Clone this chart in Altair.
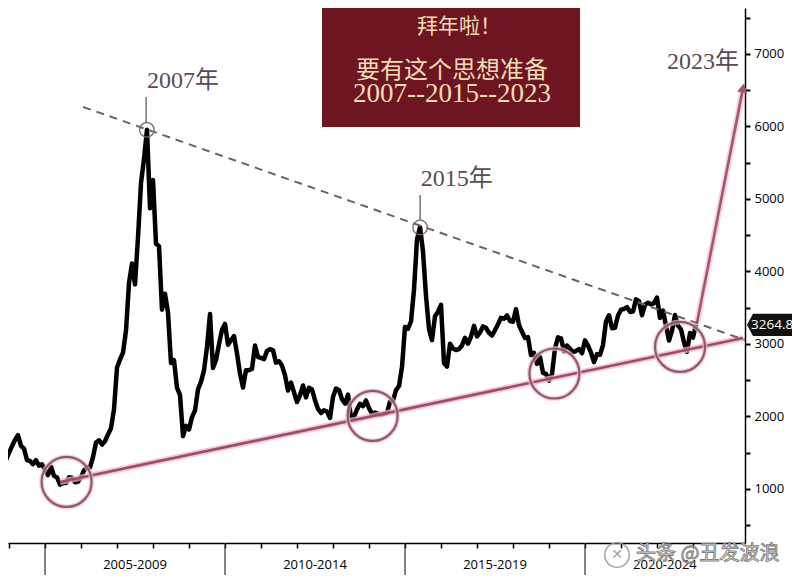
import altair as alt
import pandas as pd

# ---- Shanghai Composite, month-end closes ----
start_year = 2003
start_month = 11
close_2003 = [1397, 1497]
close_2004 = [1591, 1675, 1742, 1596, 1556, 1399, 1386, 1342, 1397, 1321, 1341, 1267]
close_2005 = [1192, 1306, 1181, 1159, 1061, 1081, 1083, 1163, 1156, 1093, 1099, 1161]
close_2006 = [1258, 1299, 1298, 1440, 1641, 1672, 1613, 1659, 1752, 1838, 2099, 2675]
close_2007 = [2786, 2881, 3184, 3841, 4110, 3821, 4471, 5219, 5552, 5955, 4872, 5262]
close_2008 = [4383, 4349, 3473, 3693, 3433, 2736, 2776, 2397, 2294, 1729, 1871, 1821]
close_2009 = [1991, 2083, 2373, 2478, 2633, 2959, 3412, 2668, 2779, 2996, 3195, 3277]
close_2010 = [2989, 3052, 3109, 2871, 2592, 2398, 2638, 2639, 2656, 2979, 2820, 2808]
close_2011 = [2791, 2905, 2928, 2912, 2743, 2762, 2702, 2567, 2359, 2468, 2333, 2199]
close_2012 = [2293, 2428, 2263, 2396, 2372, 2225, 2104, 2048, 2086, 2069, 1980, 2269]
close_2013 = [2385, 2366, 2237, 2178, 2301, 1979, 1994, 2098, 2175, 2142, 2221, 2116]
close_2014 = [2033, 2056, 2033, 2026, 2039, 2048, 2202, 2217, 2364, 2420, 2683, 3235]
close_2015 = [3210, 3310, 3748, 4442, 4612, 4277, 3664, 3206, 3053, 3383, 3445, 3539]
close_2016 = [2738, 2688, 3004, 2938, 2917, 2930, 2979, 3085, 3005, 3100, 3250, 3104]
close_2017 = [3159, 3242, 3223, 3155, 3117, 3192, 3273, 3361, 3349, 3393, 3317, 3307]
close_2018 = [3481, 3259, 3169, 3082, 3095, 2847, 2876, 2725, 2821, 2603, 2588, 2494]
close_2019 = [2585, 2941, 3091, 3078, 2899, 2979, 2933, 2886, 2905, 2929, 2872, 3050]
close_2020 = [2977, 2880, 2750, 2860, 2852, 2985, 3310, 3396, 3218, 3225, 3392, 3473]
close_2021 = [3483, 3509, 3442, 3447, 3615, 3591, 3397, 3544, 3568, 3547, 3564, 3640]
close_2022 = [3361, 3462, 3252, 3047, 3186, 3399, 3253, 3202, 3024, 2893, 3151, 3089]
close_2023 = [3264.81]

closes = (close_2003 + close_2004 + close_2005 + close_2006 + close_2007 + close_2008 +
          close_2009 + close_2010 + close_2011 + close_2012 + close_2013 + close_2014 +
          close_2015 + close_2016 + close_2017 + close_2018 + close_2019 + close_2020 +
          close_2021 + close_2022 + close_2023)
times = [start_year + (start_month + i) / 12 for i in range(len(closes))]
last_value = 3264.81

# ---- annotation geometry (data coordinates) ----
resist_t = [2006.06, 2024.44]
resist_v = [6269, 3055]
support_t = [2005.42, 2024.39]
support_v = [1097, 3083]
arrow_t = [2023.11, 2024.39]
arrow_v = [3290, 6531]
ring_t = [2005.60, 2014.10, 2019.15, 2022.64]
ring_v = [1097, 2007, 2593, 2959]
peak_t = [2007.83, 2015.42]
peak_v = [5952, 4607]
peak_stem_t = [2007.81, 2015.42]
peak_stem_top = [6407, 5055]
peak_stem_bot = [6048, 4710]
year_labels = ["2007年", "2015年"]
year_label_t = [2007.83, 2015.44]
year_label_v = [6628, 5276]
future_label = "2023年"
future_label_t = [2023.28]
future_label_v = [6890]
period_labels = ["2005-2009", "2010-2014", "2015-2019", "2020-2024"]
period_centers = [2007.5, 2012.5, 2017.5, 2022.22]
period_bounds = [2005, 2010, 2015, 2020]
year_ticks = list(range(2004, 2025))
y_ticks = [500 * k for k in range(1, 16)]
box_lines = ["拜年啦！", "要有这个思想准备", "2007--2015--2023"]

W, H = 737, 535
xs = alt.Scale(domain=[2003.9722, 2024.4444], nice=False, zero=False)
ys = alt.Scale(domain=[255, 7634], nice=False, zero=False)

AX = alt.Axis(values=year_ticks, labels=False, tickSize=5, tickColor="black", tickWidth=1.5,
              domainColor="black", domainWidth=1.5, grid=False, title=None, orient="bottom")
AY = alt.Axis(orient="right", values=y_ticks, format="d",
              labelExpr="datum.value % 1000 == 0 ? datum.label : ''",
              labelFont="Open Sans", labelFontSize=13, labelColor="black", labelPadding=4,
              tickSize=5, tickColor="black", tickWidth=2, domainColor="black", domainWidth=1.5,
              grid=False, title=None)


def X(field="t"):
    return alt.X(f"{field}:Q", scale=xs, axis=AX, title=None)


def Y(field="v"):
    return alt.Y(f"{field}:Q", scale=ys, axis=AY, title=None)


df = pd.DataFrame({"t": times, "v": closes})

CREAM = "#f3dcb7"
box = alt.Chart(pd.DataFrame({"a": [0]})).mark_rect(color="#6d1621").encode(
    x=alt.value(314), x2=alt.value(572), y=alt.value(0), y2=alt.value(119))
bt1 = alt.Chart(pd.DataFrame({"s": [box_lines[0]]})).mark_text(
    color=CREAM, font="Noto Sans CJK SC", fontSize=21, align="center", baseline="middle"
).encode(text="s:N", x=alt.value(451), y=alt.value(19))
bt2 = alt.Chart(pd.DataFrame({"s": [box_lines[1]]})).mark_text(
    color=CREAM, font="Noto Sans CJK SC", fontSize=24, align="center", baseline="middle"
).encode(text="s:N", x=alt.value(444), y=alt.value(63))
bt3 = alt.Chart(pd.DataFrame({"s": [box_lines[2]]})).mark_text(
    color=CREAM, font="Liberation Serif", fontSize=27, align="center", baseline="middle"
).encode(text="s:N", x=alt.value(444), y=alt.value(86))

main = alt.Chart(df).mark_line(color="black", strokeWidth=4.5, strokeJoin="round", clip=True).encode(
    x=X(), y=Y(), order="t:Q")


def seg(ts, vs, **kw):
    return alt.Chart(pd.DataFrame({"t": ts, "v": vs, "o": list(range(len(ts)))})).mark_line(**kw).encode(
        x=X(), y=Y(), order="o:Q")


support_halo = seg(support_t, support_v, color="#f4b3c7", strokeWidth=6, opacity=0.75)
support = seg(support_t, support_v, color="#9c4c6a", strokeWidth=2.6)
arrow_halo = seg(arrow_t, arrow_v, color="#f4b3c7", strokeWidth=6, opacity=0.6)
arrow = seg(arrow_t, arrow_v, color="#a45476", strokeWidth=2.6)
head = alt.Chart(pd.DataFrame({"t": [arrow_t[1]], "v": [arrow_v[1]]})).mark_point(
    shape="triangle-up", filled=True, color="#a45476", size=110, angle=11, opacity=1
).encode(x=X(), y=Y())
resist = seg(resist_t, resist_v, color="#6e6268", strokeWidth=2, strokeDash=[8, 6])

rings_df = pd.DataFrame({"t": ring_t, "v": ring_v})
rings_halo = alt.Chart(rings_df).mark_point(shape="circle", filled=False, size=2500,
                                            stroke="#f3bccb", strokeWidth=5, opacity=0.7).encode(x=X(), y=Y())
rings = alt.Chart(rings_df).mark_point(shape="circle", filled=False, size=2500,
                                       stroke="#8e5a6a", strokeWidth=2.2, opacity=1).encode(x=X(), y=Y())
peaks = alt.Chart(pd.DataFrame({"t": peak_t, "v": peak_v})).mark_point(
    shape="circle", filled=False, size=210, stroke="#7a6670", strokeWidth=1.3, opacity=1
).encode(x=X(), y=Y())
stems = alt.Chart(pd.DataFrame({"t": peak_stem_t, "v": peak_stem_top, "v2": peak_stem_bot})).mark_rule(
    color="#6a5a62", strokeWidth=1.3).encode(x=X(), y=Y(), y2="v2:Q")
ylabels = alt.Chart(pd.DataFrame({"t": year_label_t, "v": year_label_v, "s": year_labels})).mark_text(
    font="Liberation Serif, Noto Sans CJK SC", fontSize=24, color="#5c4b56", align="left", baseline="middle"
).encode(x=X(), y=Y(), text="s:N")
flabel = alt.Chart(pd.DataFrame({"t": future_label_t, "v": future_label_v, "s": [future_label]})).mark_text(
    font="Liberation Serif, Noto Sans CJK SC", fontSize=24, color="#5c4b56", align="center", baseline="middle"
).encode(x=X(), y=Y(), text="s:N")

# last-value tag
tag = alt.Chart(pd.DataFrame({"v": [last_value]})).mark_point(
    shape="M -1 0 L -0.8 -0.37 L 1 -0.37 L 1 0.37 L -0.8 0.37 Z", filled=True, color="#111111",
    size=3600, opacity=1).encode(x=alt.value(769), y=Y())
tag_text = alt.Chart(pd.DataFrame({"v": [last_value], "s": [f"{last_value:.2f}"]})).mark_text(
    font="Open Sans", fontSize=13.5, color="white", align="left", baseline="middle"
).encode(x=alt.value(743), y=Y(), text="s:N")

# bottom period labels and separators
seps = alt.Chart(pd.DataFrame({"t": period_bounds})).mark_rule(color="#333333", strokeWidth=1.2).encode(
    x=X(), y=alt.value(535), y2=alt.value(575))
plabels = alt.Chart(pd.DataFrame({"t": period_centers, "s": period_labels})).mark_text(
    font="Open Sans", fontSize=13, color="black", align="center", baseline="middle"
).encode(x=X(), y=alt.value(557), text="s:N")

# watermark
wm_logo = alt.Chart(pd.DataFrame({"a": [0]})).mark_point(
    shape="circle", filled=False, size=600, stroke="#9a9a9a", strokeWidth=1.5, opacity=0.9
).encode(x=alt.value(609), y=alt.value(547))
wm_x = alt.Chart(pd.DataFrame({"s": ["✕"]})).mark_text(
    font="DejaVu Sans", fontSize=14, color="#a0a0a0", align="center", baseline="middle"
).encode(x=alt.value(609), y=alt.value(547), text="s:N")
wm = alt.Chart(pd.DataFrame({"s": ["头条 @丑发波浪"]})).mark_text(
    font="Noto Sans CJK SC", fontSize=20, fill="#f4f4f4", stroke="#7d7d7d", strokeWidth=0.9,
    align="left", baseline="middle"
).encode(x=alt.value(628), y=alt.value(546), text="s:N")

chart = alt.layer(
    box, bt1, bt2, bt3, main, support_halo, support, arrow_halo, arrow, head, resist,
    rings_halo, rings, peaks, stems, ylabels, flabel, seps, plabels, tag, tag_text,
    wm_logo, wm_x, wm
).properties(
    width=W, height=H, autosize="none",
    padding={"left": 0, "top": 0, "right": 47, "bottom": 32},
    background="white"
).configure_view(stroke=None)

chart.save("out.html", embed_options={"renderer": "svg", "actions": False})
